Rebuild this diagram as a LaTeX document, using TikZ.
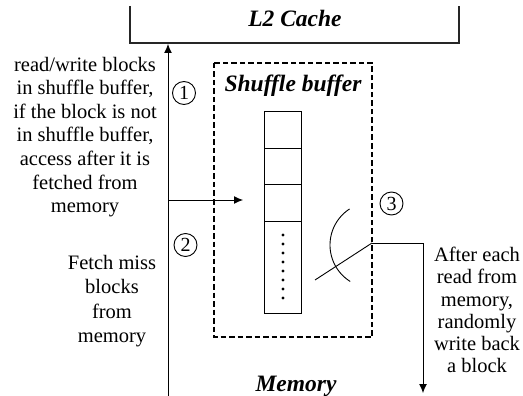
\documentclass[tikz,border=0pt]{standalone}
\usepackage{fontspec}
\setmainfont{Liberation Serif}
\usetikzlibrary{arrows.meta}
\begin{document}
\begin{tikzpicture}[x=1pt, y=-1pt,
  plain/.style={line width=0.9pt},
  flow/.style={line width=0.9pt, -{Latex[length=9pt,width=8pt]}},
  note/.style={font=\fontsize{20.5}{23.6}\selectfont, align=center, inner sep=0pt},
  heading/.style={font=\fontsize{23.5}{26}\selectfont\bfseries\itshape, inner sep=0pt},
  stepmark/.style={circle, draw, line width=0.9pt, minimum size=23pt, inner sep=0pt,
                   font=\fontsize{20}{22}\selectfont},
  cell/.style={draw, line width=0.9pt, minimum width=37pt, inner sep=0pt},
  bufferbox/.style={draw, line width=1.5pt, dash pattern=on 5.5pt off 3pt}]
\useasboundingbox (0,0) rectangle (523,396);

% L2 cache block (bottom part)
\draw[line width=1.3pt, black!85] (130,6) -- (130,43) -- (459,43) -- (459,6);
\node[heading, anchor=base] (l2) at (295,27) {L2 Cache};

% shuffle buffer region
\draw[bufferbox] (214,63) rectangle (372,337);
\node[heading, anchor=base] (shuf) at (293,92) {Shuffle buffer};

% buffer slots
\node[cell, minimum height=37pt] (c1) at (282.5,129.5) {};
\node[cell, minimum height=36pt] (c2) at (282.5,166) {};
\node[cell, minimum height=37pt] (c3) at (282.5,202.5) {};
\node[cell, minimum height=92pt] (c4) at (282.5,267) {};
\foreach \k in {0,...,7}
  \fill (283,{235+9*\k}) circle (1.6pt);

% memory label
\node[heading, anchor=base] (mem) at (296,391) {Memory};

% access path: memory -> L2, with a branch into the buffer
\coordinate (membot) at (168,400);
\coordinate (l2in) at (168,44);
\coordinate (split) at (168,200);
\coordinate (bufin) at (243,200);
\draw[flow] (membot) -- (l2in);
\draw[flow] (split) -- (bufin);

% write-back path
\coordinate (wbstart) at (315,280);
\coordinate (wbcorner) at (372,243);
\coordinate (wbturn) at (423,243);
\coordinate (wbend) at (423,393);
\draw[plain] (wbstart) -- (wbcorner);
\draw[flow] (wbcorner) -- (wbturn) -- (wbend);
\draw[plain, shift={(373,245)}] plot[domain=122:237, samples=40, smooth]
  ({43*cos(\x)},{43*sin(\x)});

% step markers
\node[stepmark] (s1) at (184,93) {1};
\node[stepmark] (s2) at (185.5,245) {2};
\node[stepmark] (s3) at (391.5,203.5) {3};

% annotations
\node[note] (t1) at (85,137) {read/write blocks\\in shuffle buffer,\\if the block is not\\in shuffle buffer,\\access after it is\\fetched from\\memory};
\node[note, font=\fontsize{20.5}{24.6}\selectfont] (t2) at (112,301) {Fetch miss\\blocks\\from\\memory};
\node[note, font=\fontsize{20.5}{22.2}\selectfont] (t3) at (477,310) {After each\\read from\\memory,\\randomly\\write back\\a block};
\end{tikzpicture}
\end{document}
